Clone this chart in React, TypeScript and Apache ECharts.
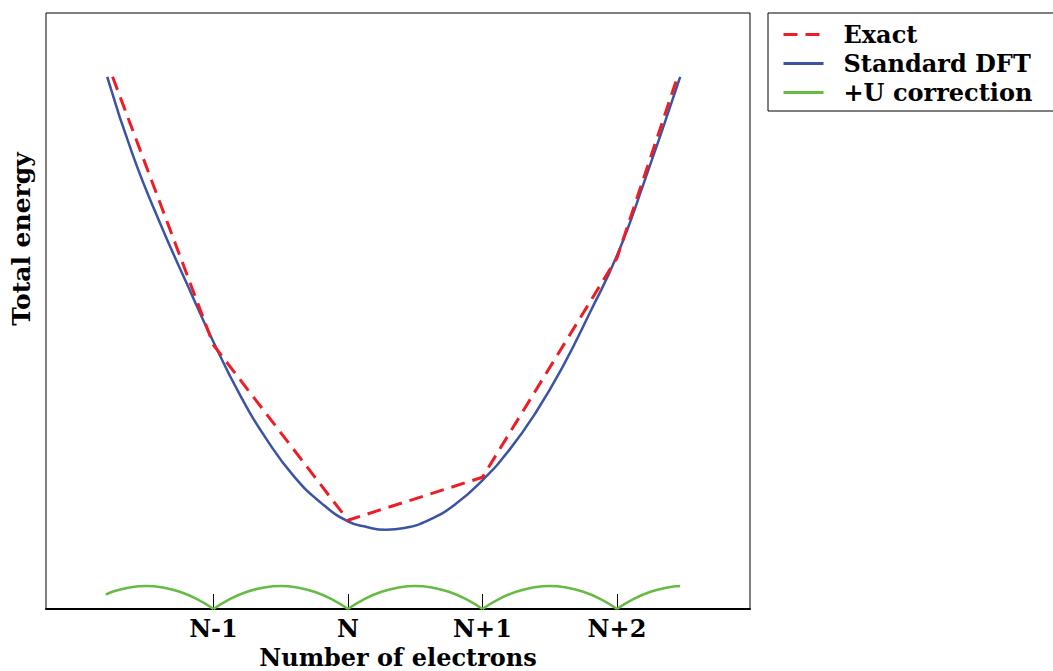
import React, { useEffect, useRef } from "react";
import * as echarts from "echarts";

// N = 0 on the x axis; energies in arbitrary units (0..100 across the plot)
const TICK_VALUES = [-1, 0, 1, 2];
const TICK_LABELS = ["N-1", "N", "N+1", "N+2"];

const DFT_X = [-1.79, -1.6, -1.4, -1.2, -1.0, -0.8, -0.6, -0.4, -0.2, 0, 0.14, 0.28, 0.42, 0.6, 0.8, 1.0, 1.2, 1.4, 1.6, 1.8, 2.0, 2.2, 2.47];
const DFT_Y = [89.3, 76.2, 64.9, 54.7, 44.8, 35.8, 28.3, 22.2, 17.8, 14.7, 13.75, 13.3, 13.6, 14.9, 17.6, 21.6, 26.7, 33.1, 40.8, 49.8, 59.3, 71.5, 89.3];

const EXACT_X = [-1.75, -1, 0, 1, 2, 2.45];
const EXACT_Y = [89.3, 44.3, 14.9, 22.1, 58.9, 89.3];

const U_ARC1_X = [-1.8, -1.75, -1.625, -1.5, -1.375, -1.25, -1.125, -1.0];
const U_ARC1_Y = [2.4, 2.9, 3.6, 3.86, 3.6, 2.9, 1.7, 0];
const U_ARC_X_OFFS = [0, 0.125, 0.25, 0.375, 0.5, 0.625, 0.75, 0.875, 1.0];
const U_ARC_Y = [0, 1.7, 2.9, 3.6, 3.86, 3.6, 2.9, 1.7, 0];
const U_ARC_STARTS = [-1, 0, 1];
const U_LAST_X = [2, 2.125, 2.25, 2.375, 2.47];
const U_LAST_Y = [0, 1.7, 2.9, 3.6, 3.84];

const FONT = "DejaVu Serif";

function pairs(xs: number[], ys: number[]) {
  return xs.map((x, i) => [x, ys[i]]);
}

export default function App() {
  const ref = useRef<HTMLDivElement>(null);
  useEffect(() => {
    if (!ref.current) return;
    const chart = echarts.init(ref.current, null, { renderer: "svg" });
    const green = "#66bb44";
    const uSeries: any[] = [];
    const arcs: number[][][] = [pairs(U_ARC1_X, U_ARC1_Y)];
    U_ARC_STARTS.forEach((s) => arcs.push(pairs(U_ARC_X_OFFS.map((o) => s + o), U_ARC_Y)));
    arcs.push(pairs(U_LAST_X, U_LAST_Y));
    arcs.forEach((d) =>
      uSeries.push({
        name: "+U correction",
        type: "line",
        data: d,
        symbol: "none",
        smooth: 0.5,
        lineStyle: { color: green, width: 2.5 },
        itemStyle: { color: green },
        z: 3,
      })
    );
    chart.setOption({
      animation: false,
      grid: {
        left: 46,
        right: 303,
        top: 13,
        bottom: 62,
        outerBoundsMode: "none",
        containLabel: false,
        show: true,
        borderColor: "#000",
        borderWidth: 1,
        backgroundColor: "transparent",
      },
      legend: {
        data: ["Exact", "Standard DFT", "+U correction"],
        orient: "vertical",
        left: 768,
        top: 13,
        padding: [9, 40, 6, 14],
        itemWidth: 40,
        itemHeight: 14,
        itemGap: 4,
        borderColor: "#000",
        borderWidth: 1,
        borderRadius: 0,
        itemStyle: { opacity: 0 },
        lineStyle: { width: 3 },
        textStyle: {
          fontFamily: FONT,
          fontWeight: "bold",
          fontSize: 24,
          color: "#000",
          lineHeight: 25,
          padding: [0, 0, 0, 15],
        },
      },
      xAxis: {
        type: "value",
        min: -2.245,
        max: 2.989,
        splitLine: { show: false },
        axisLine: { lineStyle: { color: "#000", width: 2 } },
        axisTick: {
          inside: true,
          length: 15,
          customValues: TICK_VALUES,
          lineStyle: { color: "#000", width: 1 },
        },
        axisLabel: {
          customValues: TICK_VALUES,
          formatter: (v: number) => TICK_LABELS[TICK_VALUES.indexOf(Math.round(v))] ?? "",
          fontFamily: FONT,
          fontWeight: "bold",
          fontSize: 24,
          color: "#000",
          margin: 7,
        },
        name: "Number of electrons",
        nameLocation: "middle",
        nameGap: 36,
        nameTextStyle: { fontFamily: FONT, fontWeight: "bold", fontSize: 24, lineHeight: 24, color: "#000" },
      },
      yAxis: {
        type: "value",
        min: 0,
        max: 100,
        show: false,
        splitLine: { show: false },
      },
      graphic: [
        {
          type: "text",
          x: 21,
          y: 239,
          rotation: Math.PI / 2,
          style: {
            text: "Total energy",
            fontFamily: FONT,
            fontWeight: "bold",
            fontSize: 25,
            fill: "#000",
            textAlign: "center",
            textVerticalAlign: "middle",
          },
        },
      ],
      series: [
        {
          name: "Exact",
          type: "line",
          data: pairs(EXACT_X, EXACT_Y),
          symbol: "none",
          lineStyle: { color: "#ee1c25", width: 3, type: [14, 8] },
          itemStyle: { color: "#ee1c25" },
          z: 4,
        },
        {
          name: "Standard DFT",
          type: "line",
          data: pairs(DFT_X, DFT_Y),
          symbol: "none",
          smooth: true,
          lineStyle: { color: "#3a53a4", width: 2.5 },
          itemStyle: { color: "#3a53a4" },
          z: 3,
        },
        ...uSeries,
      ],
    });
    return () => chart.dispose();
  }, []);
  return (
    <div
      ref={ref}
      style={{ position: "absolute", left: 0, top: 0, width: 1053, height: 671 }}
    />
  );
}
